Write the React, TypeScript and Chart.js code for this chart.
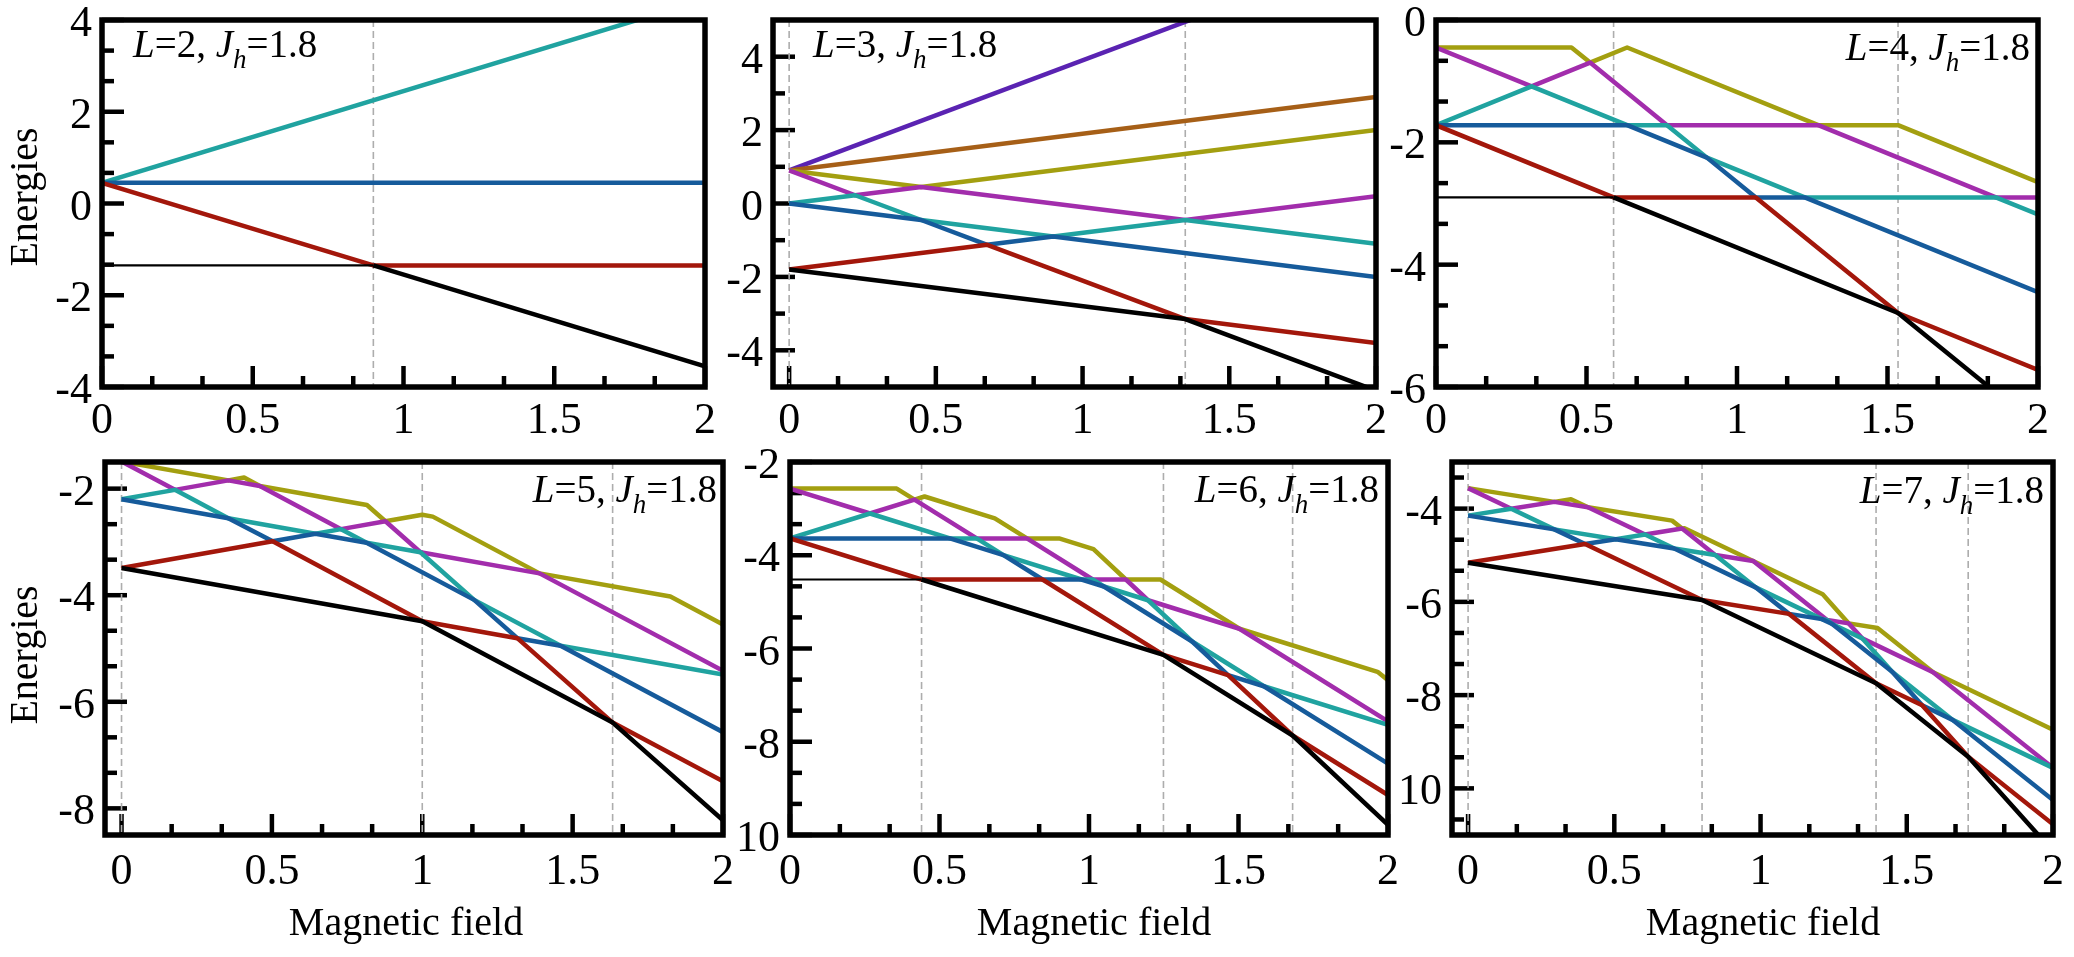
import React, { useEffect, useRef } from 'react';
import { Chart, registerables } from 'chart.js';

Chart.register(...registerables);

type Pt = [number, number];

const SERIF = "'Liberation Serif', 'Times New Roman', serif";
Chart.defaults.font.family = SERIF;

const BLACK = '#000000';
const RED = '#a3170b';
const BLUE = '#165b9b';
const CYAN = '#20a3a0';
const MAGENTA = '#a22dac';
const OLIVE = '#a39f10';
const VIOLET = '#5a23b2';
const BROWN = '#a65f17';

const JH = '1.8';
const X_TITLE = 'Magnetic field';
const Y_TITLE = 'Energies';

const X_TICKS = [0, 0.5, 1, 1.5, 2];
const X_TICK_LABELS = ['0', '0.5', '1', '1.5', '2'];
const X_MINOR_TICKS = [0.1667, 0.3333, 0.6667, 0.8333, 1.1667, 1.3333, 1.6667, 1.8333];

// ---- L = 2 ----
const L2_BLACK: Pt[] = [[0, -1.35], [0.9, -1.35], [2, -3.55]];
const L2_RED: Pt[] = [[0, 0.45], [0.9, -1.35], [2, -1.35]];
const L2_BLUE: Pt[] = [[0, 0.45], [2, 0.45]];
const L2_CYAN: Pt[] = [[0, 0.45], [2, 4.45]];
const L2_CROSSINGS = [0.9];
const L2_Y_TICKS = [-4, -2, 0, 2, 4];
const L2_Y_LABELS = ['-4', '-2', '0', '2', '4'];
const L2_Y_MINOR = [-3.333, -2.667, -1.333, -0.667, 0.667, 1.333, 2.667, 3.333];

// ---- L = 3 ----
const L3_BLACK: Pt[] = [[0, -1.8], [1.35, -3.15], [2, -5.1]];
const L3_RED: Pt[] = [[0, -1.8], [0.675, -1.125], [1.35, -3.15], [2, -3.8]];
const L3_BLUE: Pt[] = [[0, 0], [0.45, -0.45], [0.675, -1.125], [0.9, -0.9], [2, -2.0]];
const L3_CYAN: Pt[] = [[0, 0], [0.225, 0.225], [0.45, -0.45], [0.9, -0.9], [1.35, -0.45], [2, -1.1]];
const L3_MAGENTA: Pt[] = [[0, 0.9], [0.225, 0.225], [0.45, 0.45], [1.35, -0.45], [2, 0.2]];
const L3_OLIVE: Pt[] = [[0, 0.9], [0.45, 0.45], [2, 2.0]];
const L3_BROWN: Pt[] = [[0, 0.9], [2, 2.9]];
const L3_VIOLET: Pt[] = [[0, 0.9], [2, 6.9]];
const L3_CROSSINGS = [0, 1.35];
const L3_Y_TICKS = [-4, -2, 0, 2, 4];
const L3_Y_LABELS = ['-4', '-2', '0', '2', '4'];
const L3_Y_MINOR = [-3, -1, 1, 3];

// ---- L = 4 ----
const L4_BLACK: Pt[] = [[0, -2.9], [0.59, -2.9], [1.535, -4.79], [2, -6.65]];
const L4_RED: Pt[] = [[0, -1.72], [0.59, -2.9], [1.0625, -2.9], [1.535, -4.79], [2, -5.72]];
const L4_BLUE: Pt[] = [[0, -1.72], [0.635, -1.72], [0.9, -2.25], [1.0625, -2.9], [1.225, -2.9], [2, -4.45]];
const L4_CYAN: Pt[] = [[0, -1.72], [0.3175, -1.085], [0.635, -1.72], [0.7675, -1.72], [0.9, -2.25], [1.225, -2.9], [1.86, -2.9], [2, -3.18]];
const L4_MAGENTA: Pt[] = [[0, -0.45], [0.3175, -1.085], [0.512, -0.696], [0.7675, -1.72], [1.27, -1.72], [1.86, -2.9], [2, -2.9]];
const L4_OLIVE: Pt[] = [[0, -0.45], [0.45, -0.45], [0.512, -0.696], [0.635, -0.45], [1.27, -1.72], [1.535, -1.72], [2, -2.65]];
const L4_CROSSINGS = [0.59, 1.535];
const L4_Y_TICKS = [-6, -4, -2, 0];
const L4_Y_LABELS = ['-6', '-4', '-2', '0'];
const L4_Y_MINOR = [-5.333, -4.667, -3.333, -2.667, -1.333, -0.667];

// ---- L = 5 ----
const L5_BLACK: Pt[] = [[0, -3.49], [1.0, -4.49], [1.633, -6.39], [2, -8.225]];
const L5_RED: Pt[] = [[0, -3.49], [0.5025, -2.9875], [1.0, -4.49], [1.316, -4.806], [1.633, -6.39], [2, -7.49]];
const L5_BLUE: Pt[] = [[0, -2.2], [0.355, -2.555], [0.5025, -2.9875], [0.645, -2.845], [0.815, -3.015], [1.1725, -4.0875], [1.316, -4.806], [1.46, -4.95], [2, -6.57]];
const L5_CYAN: Pt[] = [[0, -2.2], [0.1775, -2.0225], [0.355, -2.555], [0.645, -2.845], [0.73, -2.76], [0.815, -3.015], [0.994, -3.194], [1.1725, -4.0875], [1.46, -4.95], [2, -5.49]];
const L5_MAGENTA: Pt[] = [[0, -1.49], [0.1775, -2.0225], [0.355, -1.845], [0.46, -1.95], [0.73, -2.76], [0.8775, -2.6125], [0.994, -3.194], [1.39, -3.59], [2, -5.42]];
const L5_OLIVE: Pt[] = [[0, -1.49], [0.355, -1.845], [0.4075, -1.7925], [0.46, -1.95], [0.816, -2.306], [0.8775, -2.6125], [1.0, -2.49], [1.035, -2.525], [1.39, -3.59], [1.825, -4.025], [2, -4.55]];
const L5_CROSSINGS = [0, 1.0, 1.633];
const L5_Y_TICKS = [-8, -6, -4, -2];
const L5_Y_LABELS = ['-8', '-6', '-4', '-2'];
const L5_Y_MINOR = [-7.333, -6.667, -5.333, -4.667, -3.333, -2.667];

// ---- L = 6 ----
const L6_BLACK: Pt[] = [[0, -4.52], [0.44, -4.52], [1.249, -6.138], [1.681, -7.866], [2, -9.78]];
const L6_RED: Pt[] = [[0, -3.64], [0.44, -4.52], [0.8445, -4.52], [1.249, -6.138], [1.465, -6.57], [1.681, -7.866], [2, -9.142]];
const L6_BLUE: Pt[] = [[0, -3.64], [0.535, -3.64], [0.714, -3.998], [0.8445, -4.52], [0.975, -4.52], [1.05, -4.67], [1.345, -5.85], [1.465, -6.57], [1.585, -6.81], [2, -8.47]];
const L6_CYAN: Pt[] = [[0, -3.64], [0.2675, -3.105], [0.535, -3.64], [0.6245, -3.64], [0.714, -3.998], [0.975, -4.52], [1.0125, -4.52], [1.05, -4.67], [1.1975, -4.965], [1.345, -5.85], [1.585, -6.81], [2, -7.64]];
const L6_MAGENTA: Pt[] = [[0, -2.57], [0.2675, -3.105], [0.4163, -2.807], [0.6245, -3.64], [0.7925, -3.64], [1.0125, -4.52], [1.1233, -4.52], [1.1975, -4.965], [1.503, -5.576], [2, -7.564]];
const L6_OLIVE: Pt[] = [[0, -2.57], [0.357, -2.57], [0.4163, -2.807], [0.45, -2.74], [0.685, -3.21], [0.7925, -3.64], [0.9, -3.64], [1.015, -3.87], [1.1233, -4.52], [1.239, -4.52], [1.503, -5.576], [1.965, -6.5], [2, -6.68]];
const L6_CROSSINGS = [0.44, 1.249, 1.681];
const L6_Y_TICKS = [-10, -8, -6, -4, -2];
const L6_Y_LABELS = ['10', '-8', '-6', '-4', '-2'];
const L6_Y_MINOR = [-9.333, -8.667, -7.333, -6.667, -5.333, -4.667, -3.333, -2.667];

// ---- L = 7 ----
const L7_BLACK: Pt[] = [[0, -5.16], [0.8, -5.96], [1.395, -7.745], [1.71, -9.32], [2, -11.35]];
const L7_RED: Pt[] = [[0, -5.16], [0.4, -4.76], [0.8, -5.96], [1.0975, -6.2575], [1.395, -7.745], [1.5525, -8.2175], [1.71, -9.32], [2, -10.77]];
const L7_BLUE: Pt[] = [[0, -4.15], [0.295, -4.445], [0.4, -4.76], [0.505, -4.655], [0.705, -4.855], [0.985, -5.695], [1.0975, -6.2575], [1.21, -6.37], [1.245, -6.475], [1.45, -7.5], [1.5525, -8.2175], [1.655, -8.525], [2, -10.25]];
const L7_CYAN: Pt[] = [[0, -4.15], [0.1475, -4.0025], [0.295, -4.445], [0.505, -4.655], [0.605, -4.555], [0.705, -4.855], [0.845, -4.995], [0.985, -5.695], [1.21, -6.37], [1.2275, -6.3875], [1.245, -6.475], [1.3475, -6.7825], [1.45, -7.5], [1.655, -8.525], [2, -9.56]];
const L7_MAGENTA: Pt[] = [[0, -3.56], [0.1475, -4.0025], [0.295, -3.855], [0.41, -3.97], [0.605, -4.555], [0.7317, -4.428], [0.845, -4.995], [0.975, -5.125], [1.2275, -6.3875], [1.3017, -6.4617], [1.3475, -6.7825], [1.59, -7.51], [2, -9.56]];
const L7_OLIVE: Pt[] = [[0, -3.56], [0.295, -3.855], [0.352, -3.797], [0.41, -3.97], [0.6975, -4.2575], [0.7317, -4.428], [0.74, -4.42], [1.2125, -5.8375], [1.3017, -6.4617], [1.4, -6.56], [1.59, -7.51], [2, -8.74]];
const L7_CROSSINGS = [0, 0.8, 1.395, 1.71];
const L7_Y_TICKS = [-10, -8, -6, -4];
const L7_Y_LABELS = ['10', '-8', '-6', '-4'];
const L7_Y_MINOR = [-10.667, -9.333, -8.667, -7.333, -6.667, -5.333, -4.667, -3.333];

// ---- layout of the six panels (page pixels) ----
const PAD_L = 100;
const PAD_T = 30;
const PAD_R = 20;
const PAD_B = 120;
const TICK_FONT = `44px ${SERIF}`;
const TITLE_FONT = `40px ${SERIF}`;

interface Panel {
  L: string;
  series: { pts: Pt[]; color: string }[];
  crossings: number[];
  xMin: number;
  yMin: number;
  yMax: number;
  yTicks: number[];
  yLabels: string[];
  yMinor: number[];
  box: [number, number, number, number];
  note: { x: number; y: number; align: 'left' | 'right' };
  yTitle?: [number, number];
  xTitle?: [number, number];
  xLabelBaseline: number;
}

const PANELS: Panel[] = [
  {
    L: '2',
    series: [
      { pts: L2_BLACK, color: BLACK }, { pts: L2_RED, color: RED },
      { pts: L2_BLUE, color: BLUE }, { pts: L2_CYAN, color: CYAN },
    ],
    crossings: L2_CROSSINGS, xMin: 0, yMin: -4, yMax: 4,
    yTicks: L2_Y_TICKS, yLabels: L2_Y_LABELS, yMinor: L2_Y_MINOR,
    box: [102, 20, 705, 387], note: { x: 133, y: 57, align: 'left' },
    yTitle: [37, 197], xLabelBaseline: 46,
  },
  {
    L: '3',
    series: [
      { pts: L3_BLACK, color: BLACK }, { pts: L3_RED, color: RED },
      { pts: L3_BLUE, color: BLUE }, { pts: L3_CYAN, color: CYAN },
      { pts: L3_MAGENTA, color: MAGENTA }, { pts: L3_OLIVE, color: OLIVE },
      { pts: L3_BROWN, color: BROWN }, { pts: L3_VIOLET, color: VIOLET },
    ],
    crossings: L3_CROSSINGS, xMin: -0.055, yMin: -5, yMax: 5,
    yTicks: L3_Y_TICKS, yLabels: L3_Y_LABELS, yMinor: L3_Y_MINOR,
    box: [773, 20, 1376, 387], note: { x: 813, y: 57, align: 'left' },
    xLabelBaseline: 46,
  },
  {
    L: '4',
    series: [
      { pts: L4_BLACK, color: BLACK }, { pts: L4_RED, color: RED },
      { pts: L4_BLUE, color: BLUE }, { pts: L4_CYAN, color: CYAN },
      { pts: L4_MAGENTA, color: MAGENTA }, { pts: L4_OLIVE, color: OLIVE },
    ],
    crossings: L4_CROSSINGS, xMin: 0, yMin: -6, yMax: 0,
    yTicks: L4_Y_TICKS, yLabels: L4_Y_LABELS, yMinor: L4_Y_MINOR,
    box: [1436, 20, 2038, 387], note: { x: 2030, y: 60, align: 'right' },
    xLabelBaseline: 46,
  },
  {
    L: '5',
    series: [
      { pts: L5_BLACK, color: BLACK }, { pts: L5_RED, color: RED },
      { pts: L5_BLUE, color: BLUE }, { pts: L5_CYAN, color: CYAN },
      { pts: L5_MAGENTA, color: MAGENTA }, { pts: L5_OLIVE, color: OLIVE },
    ],
    crossings: L5_CROSSINGS, xMin: -0.055, yMin: -8.5, yMax: -1.5,
    yTicks: L5_Y_TICKS, yLabels: L5_Y_LABELS, yMinor: L5_Y_MINOR,
    box: [105, 462, 723, 835], note: { x: 717, y: 502, align: 'right' },
    yTitle: [37, 655], xTitle: [406, 935], xLabelBaseline: 49,
  },
  {
    L: '6',
    series: [
      { pts: L6_BLACK, color: BLACK }, { pts: L6_RED, color: RED },
      { pts: L6_BLUE, color: BLUE }, { pts: L6_CYAN, color: CYAN },
      { pts: L6_MAGENTA, color: MAGENTA }, { pts: L6_OLIVE, color: OLIVE },
    ],
    crossings: L6_CROSSINGS, xMin: 0, yMin: -10, yMax: -2,
    yTicks: L6_Y_TICKS, yLabels: L6_Y_LABELS, yMinor: L6_Y_MINOR,
    box: [790, 462, 1388, 835], note: { x: 1379, y: 502, align: 'right' },
    xTitle: [1094, 935], xLabelBaseline: 49,
  },
  {
    L: '7',
    series: [
      { pts: L7_BLACK, color: BLACK }, { pts: L7_RED, color: RED },
      { pts: L7_BLUE, color: BLUE }, { pts: L7_CYAN, color: CYAN },
      { pts: L7_MAGENTA, color: MAGENTA }, { pts: L7_OLIVE, color: OLIVE },
    ],
    crossings: L7_CROSSINGS, xMin: -0.055, yMin: -11, yMax: -3,
    yTicks: L7_Y_TICKS, yLabels: L7_Y_LABELS, yMinor: L7_Y_MINOR,
    box: [1452, 462, 2053, 835], note: { x: 2044, y: 503, align: 'right' },
    xTitle: [1763, 935], xLabelBaseline: 49,
  },
];

// "L=n, J_h=1.8" with italic symbols and a lowered subscript
function drawNote(ctx: CanvasRenderingContext2D, L: string, x: number, y: number, align: 'left' | 'right') {
  const size = 39;
  const roman = `${size}px ${SERIF}`;
  const italic = `italic ${size}px ${SERIF}`;
  const sub = `italic ${Math.round(size * 0.7)}px ${SERIF}`;
  const parts = [
    { t: 'L', f: italic, dy: 0 },
    { t: `=${L}, `, f: roman, dy: 0 },
    { t: 'J', f: italic, dy: 0 },
    { t: 'h', f: sub, dy: 11 },
    { t: `=${JH}`, f: roman, dy: 0 },
  ];
  ctx.save();
  ctx.fillStyle = '#000';
  ctx.textBaseline = 'alphabetic';
  ctx.textAlign = 'left';
  const widths = parts.map((p) => { ctx.font = p.f; return ctx.measureText(p.t).width; });
  const total = widths.reduce((a, b) => a + b, 0);
  let cx = align === 'left' ? x : x - total;
  parts.forEach((p, i) => {
    ctx.font = p.f;
    ctx.fillText(p.t, cx, y + p.dy);
    cx += widths[i];
  });
  ctx.restore();
}

function makeChart(canvas: HTMLCanvasElement, p: Panel): Chart {
  const [l, t] = p.box;
  const ox = l - PAD_L;
  const oy = t - PAD_T;

  const decor = {
    id: 'panelDecor',
    beforeDatasetsDraw(chart: any) {
      const { ctx, chartArea: a, scales } = chart;
      const xs = scales.x;
      const ys = scales.y;
      ctx.save();
      ctx.strokeStyle = '#000';
      ctx.lineWidth = 4.5;
      ctx.lineCap = 'butt';
      const seg = (x1: number, y1: number, x2: number, y2: number) => {
        ctx.beginPath();
        ctx.moveTo(x1, y1);
        ctx.lineTo(x2, y2);
        ctx.stroke();
      };
      p.yTicks.forEach((v) => { const y = ys.getPixelForValue(v); seg(a.left, y, a.left + 22, y); });
      p.yMinor.forEach((v) => { const y = ys.getPixelForValue(v); seg(a.left, y, a.left + 12, y); });
      X_TICKS.forEach((v) => { const x = xs.getPixelForValue(v); seg(x, a.bottom, x, a.bottom - 21); });
      X_MINOR_TICKS.forEach((v) => { const x = xs.getPixelForValue(v); seg(x, a.bottom, x, a.bottom - 11); });

      ctx.strokeStyle = '#adadad';
      ctx.lineWidth = 1.6;
      ctx.setLineDash([7, 4]);
      p.crossings.forEach((v) => {
        const x = xs.getPixelForValue(v);
        seg(x, a.top, x, a.bottom);
      });
      ctx.restore();
    },
    afterDatasetsDraw(chart: any) {
      const { ctx, chartArea: a, scales } = chart;
      const xs = scales.x;
      const ys = scales.y;
      ctx.save();
      ctx.strokeStyle = '#000';
      ctx.lineWidth = 5.5;
      ctx.strokeRect(a.left, a.top, a.right - a.left, a.bottom - a.top);
      ctx.restore();

      // tick labels placed at the scale positions
      ctx.save();
      ctx.fillStyle = '#000';
      ctx.font = TICK_FONT;
      ctx.textBaseline = 'alphabetic';
      ctx.textAlign = 'center';
      X_TICKS.forEach((v, i) => {
        ctx.fillText(X_TICK_LABELS[i], xs.getPixelForValue(v), a.bottom + p.xLabelBaseline);
      });
      ctx.textAlign = 'right';
      p.yTicks.forEach((v, i) => {
        ctx.fillText(p.yLabels[i], a.left - 10, ys.getPixelForValue(v) + 16);
      });
      ctx.restore();

      drawNote(ctx, p.L, p.note.x - ox, p.note.y - oy, p.note.align);

      ctx.save();
      ctx.fillStyle = '#000';
      ctx.font = TITLE_FONT;
      ctx.textBaseline = 'alphabetic';
      ctx.textAlign = 'center';
      if (p.xTitle) {
        ctx.fillText(X_TITLE, p.xTitle[0] - ox, p.xTitle[1] - oy);
      }
      if (p.yTitle) {
        ctx.translate(p.yTitle[0] - ox, p.yTitle[1] - oy);
        ctx.rotate(-Math.PI / 2);
        ctx.fillText(Y_TITLE, 0, 0);
      }
      ctx.restore();
    },
  };

  return new Chart(canvas, {
    type: 'line',
    data: {
      datasets: p.series.map((s) => ({
        data: s.pts.map(([x, y]) => ({ x, y })),
        borderColor: s.color,
        backgroundColor: s.color,
        borderWidth: 4.5,
        borderJoinStyle: 'round' as const,
        pointRadius: 0,
        fill: false,
        tension: 0,
        segment: s.color === BLACK
          ? { borderWidth: (c: any) => (c.p0.parsed.y === c.p1.parsed.y ? 2.2 : undefined) }
          : undefined,
      })),
    },
    options: {
      animation: false,
      responsive: false,
      maintainAspectRatio: false,
      devicePixelRatio: 1,
      events: [],
      layout: { padding: { left: 0, top: PAD_T, right: PAD_R, bottom: 0 } },
      plugins: { legend: { display: false }, tooltip: { enabled: false }, title: { display: false } },
      scales: {
        x: {
          type: 'linear',
          min: p.xMin,
          max: 2,
          grid: { display: false, drawTicks: false },
          border: { display: false },
          afterBuildTicks: (s: any) => { s.ticks = X_TICKS.map((v) => ({ value: v })); },
          afterFit: (s: any) => { s.height = PAD_B; },
          ticks: { display: false },
        },
        y: {
          type: 'linear',
          min: p.yMin,
          max: p.yMax,
          grid: { display: false, drawTicks: false },
          border: { display: false },
          afterBuildTicks: (s: any) => { s.ticks = p.yTicks.map((v) => ({ value: v })); },
          afterFit: (s: any) => { s.width = PAD_L; },
          ticks: { display: false },
        },
      },
    } as any,
    plugins: [decor],
  });
}

export default function App() {
  const refs = useRef<(HTMLCanvasElement | null)[]>([]);

  useEffect(() => {
    const charts = PANELS.map((p, i) => makeChart(refs.current[i] as HTMLCanvasElement, p));
    return () => charts.forEach((c) => c.destroy());
  }, []);

  return (
    <div style={{ position: 'absolute', left: 0, top: 0, width: 2074, height: 957, background: '#ffffff', overflow: 'hidden' }}>
      {PANELS.map((p, i) => {
        const [l, t, r, b] = p.box;
        const w = r - l + PAD_L + PAD_R;
        const h = b - t + PAD_T + PAD_B;
        return (
          <canvas
            key={i}
            ref={(el) => { refs.current[i] = el; }}
            width={w}
            height={h}
            style={{ position: 'absolute', left: l - PAD_L, top: t - PAD_T, width: w, height: h }}
          />
        );
      })}
    </div>
  );
}
